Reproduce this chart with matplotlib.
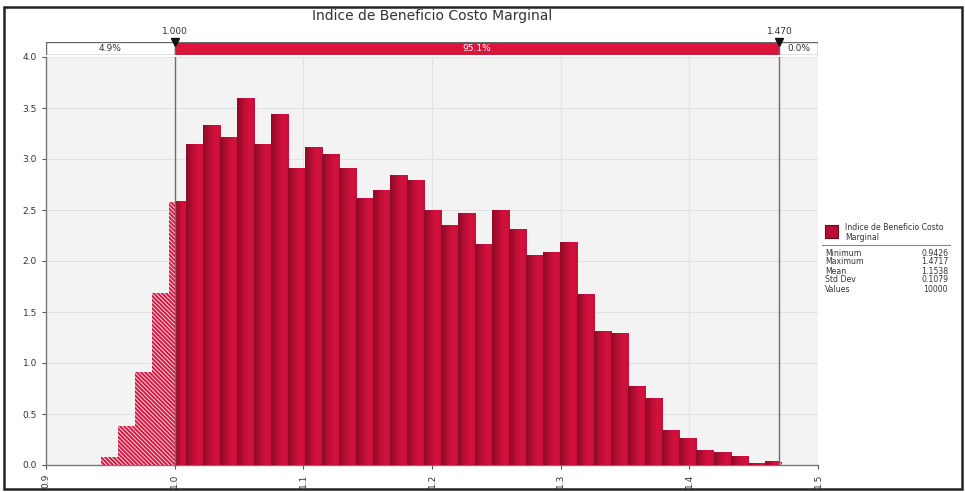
import matplotlib
matplotlib.use("Agg")
import matplotlib.pyplot as plt
from matplotlib.patches import Rectangle
from matplotlib.colors import LinearSegmentedColormap
import numpy as np

plt.rcParams['font.family'] = ['DejaVu Sans']
plt.rcParams['hatch.linewidth'] = 0.8

TITLE = 'Indice de Beneficio Costo Marginal'

# simulation summary
STAT_NAMES = ['Minimum', 'Maximum', 'Mean', 'Std Dev', 'Values']
STAT_VALUES = ['0.9426', '1.4717', '1.1538', '0.1079', '10000']
X_MIN = 0.9426
X_MAX = 1.4717

# probability density of the 40 histogram bins
DENSITY = [0.08, 0.38, 0.91, 1.69, 2.58, 3.14, 3.33, 3.21, 3.59, 3.14,
           3.44, 2.91, 3.11, 3.04, 2.91, 2.61, 2.69, 2.84, 2.79, 2.50,
           2.35, 2.47, 2.16, 2.50, 2.31, 2.05, 2.08, 2.18, 1.67, 1.31,
           1.29, 0.77, 0.65, 0.34, 0.26, 0.14, 0.12, 0.08, 0.01, 0.03]

# certainty range shown in the band above the chart
LOWER = 1.000
UPPER = 1.470
BAND_LABELS = ['4.9%', '95.1%', '0.0%']

X_TICKS = [0.9, 1.0, 1.1, 1.2, 1.3, 1.4, 1.5]
Y_TICKS = [0.0, 0.5, 1.0, 1.5, 2.0, 2.5, 3.0, 3.5, 4.0]

RED = '#D5113D'
RED_DARK = '#8C0A26'
GRID = '#E2E2E2'
TXT = '#333333'

grad = LinearSegmentedColormap.from_list('bar', [RED_DARK, '#B30E33', RED, '#C8103A'])
grad_img = np.linspace(0, 1, 64).reshape(1, -1)

W, H = 965, 492
fig = plt.figure(figsize=(W / 100, H / 100), dpi=100)

def fx(px):
    return px / W

def fy(py):
    return 1 - py / H

# frame round the whole figure
fig.patches.append(Rectangle((fx(4), fy(489)), fx(958), (489 - 7) / H,
                             transform=fig.transFigure, fill=False,
                             edgecolor='#222222', linewidth=1.8))

ax = fig.add_axes([fx(46), fy(465), fx(818 - 46), (465 - 57) / H])
ax.set_facecolor('#F3F3F3')

edges = np.linspace(X_MIN, X_MAX, len(DENSITY) + 1)
for x0, x1, h in zip(edges[:-1], edges[1:], DENSITY):
    # tails outside the range are hatched
    if x0 < LOWER:
        ax.add_patch(Rectangle((x0, 0), min(x1, LOWER) - x0, h, facecolor='#D3163F',
                               edgecolor='#F4C6D0', hatch='\\' * 8, linewidth=0, zorder=3))
    if x1 > UPPER:
        xs = max(x0, UPPER)
        ax.add_patch(Rectangle((xs, 0), x1 - xs, h, facecolor='#D3163F',
                               edgecolor='#F4C6D0', hatch='\\' * 8, linewidth=0, zorder=3))
    s0, s1 = max(x0, LOWER), min(x1, UPPER)
    if s1 > s0:
        ax.imshow(grad_img, cmap=grad, aspect='auto', extent=[s0, s1, 0, h],
                  interpolation='bilinear', zorder=3)
ax.set_xlim(0.9, 1.5)
ax.set_ylim(0, 4.0)

for v in (LOWER, UPPER):
    ax.axvline(v, color='#6E6E6E', linewidth=1.0, zorder=4)

ax.set_xticks(X_TICKS)
ax.set_xticklabels([f'{t:.1f}' for t in X_TICKS], rotation=90)
ax.set_yticks(Y_TICKS)
ax.set_yticklabels([f'{t:.1f}' for t in Y_TICKS])
ax.tick_params(labelsize=6.5, colors='#555555', labelcolor=TXT, length=3, width=0.8)
ax.grid(True, color=GRID, linewidth=0.8, zorder=0)
ax.set_axisbelow(True)
for side in ('top', 'right'):
    ax.spines[side].set_visible(False)
for side in ('left', 'bottom'):
    ax.spines[side].set_color('#777777')
    ax.spines[side].set_linewidth(1.0)

# certainty band
bx = fig.add_axes([fx(46), fy(55), fx(818 - 46), 13 / H])
bx.set_xlim(0.9, 1.5)
bx.set_ylim(0, 1)
bx.axis('off')
spans = [(0.9, LOWER, 'white', TXT), (LOWER, UPPER, '#DC143C', 'white'), (UPPER, 1.5, 'white', TXT)]
for (a, b, fc, tc), lab in zip(spans, BAND_LABELS):
    bx.add_patch(Rectangle((a, 0), b - a, 1, facecolor=fc, edgecolor='#666666', linewidth=1.0))
    bx.text((a + b) / 2, 0.5, lab, ha='center', va='center', fontsize=6.5, color=tc)
for v in (LOWER, UPPER):
    bx.plot([v], [1.0], marker='v', color='#111111', markersize=6, clip_on=False, zorder=5)
    bx.annotate(f'{v:.3f}', (v, 1.0), xytext=(0, 4), textcoords='offset points',
                ha='center', va='bottom', fontsize=6.5, color=TXT, annotation_clip=False)

fig.text(fx(432), fy(16), TITLE, ha='center', va='center', fontsize=10, color=TXT)

# stats panel on the right
fig.patches.append(Rectangle((fx(825), fy(238)), fx(13), 13 / H, transform=fig.transFigure,
                             facecolor='#B80F33', edgecolor='#6A0A1E', linewidth=0.8))
fig.text(fx(845), fy(223), 'Indice de Beneficio Costo\nMarginal', ha='left', va='top',
         fontsize=5.6, color=TXT, linespacing=1.1)
fig.add_artist(plt.Line2D([fx(822), fx(950)], [fy(245), fy(245)], transform=fig.transFigure,
                          color='#888888', linewidth=0.8))
for i, (name, val) in enumerate(zip(STAT_NAMES, STAT_VALUES)):
    y = fy(253 + i * 9)
    fig.text(fx(825), y, name, ha='left', va='center', fontsize=5.6, color=TXT)
    fig.text(fx(948), y, val, ha='right', va='center', fontsize=5.6, color=TXT)

fig.savefig('out.png', dpi=100, facecolor='white')
